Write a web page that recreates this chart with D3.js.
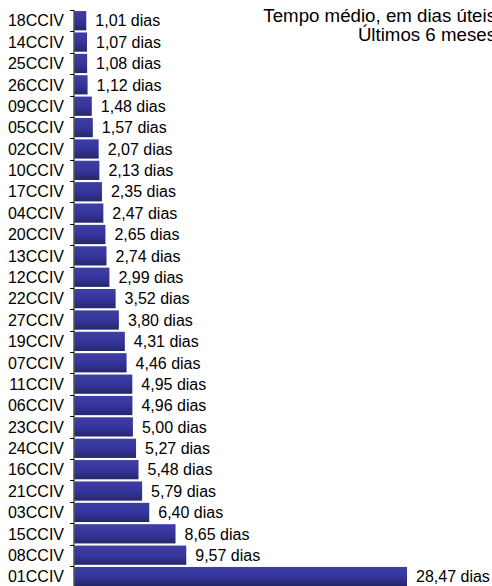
<!DOCTYPE html>
<html>
<head>
<meta charset="utf-8">
<script src="https://cdn.jsdelivr.net/npm/d3@7"></script>
<style>
  html, body { margin: 0; padding: 0; background: #fff; }
  svg { display: block; }
  text { font-family: "Liberation Sans", Arial, sans-serif; fill: #000; }
</style>
</head>
<body>
<script>
const categories = ["18CCIV","14CCIV","25CCIV","26CCIV","09CCIV","05CCIV","02CCIV","10CCIV","17CCIV","04CCIV","20CCIV","13CCIV","12CCIV","22CCIV","27CCIV","19CCIV","07CCIV","11CCIV","06CCIV","23CCIV","24CCIV","16CCIV","21CCIV","03CCIV","15CCIV","08CCIV","01CCIV"];
const values = [1.01,1.07,1.08,1.12,1.48,1.57,2.07,2.13,2.35,2.47,2.65,2.74,2.99,3.52,3.80,4.31,4.46,4.95,4.96,5.00,5.27,5.48,5.79,6.40,8.65,9.57,28.47];
const titleLines = ["Tempo médio, em dias úteis", "Últimos 6 meses"];
const unit = "dias";

const W = 492, H = 586;
const data = categories.map((c, i) => ({ c, v: values[i] }));

const svg = d3.select("body").append("svg").attr("width", W).attr("height", H);

const defs = svg.append("defs");
const grad = defs.append("linearGradient").attr("id", "barGrad")
  .attr("x1", 0).attr("y1", 0).attr("x2", 0).attr("y2", 1);
grad.append("stop").attr("offset", "0%").attr("stop-color", "#3e3ea6");
grad.append("stop").attr("offset", "55%").attr("stop-color", "#34349a");
grad.append("stop").attr("offset", "100%").attr("stop-color", "#26266a");

const x = d3.scaleLinear().domain([0, 28.47]).range([74.5, 407]);
const y = d3.scaleBand().domain(categories).range([10, 10 + 21.38 * categories.length]).paddingInner(0.1).paddingOuter(0.05);

// bars
svg.append("g").selectAll("rect").data(data).join("rect")
  .attr("x", x(0))
  .attr("y", d => y(d.c))
  .attr("width", d => x(d.v) - x(0))
  .attr("height", y.bandwidth())
  .attr("fill", "url(#barGrad)");

// axis line
const axisX = 74;
const step = y.step();
const y0 = y.range()[0];
svg.append("line")
  .attr("x1", axisX).attr("x2", axisX)
  .attr("y1", y0).attr("y2", H)
  .attr("stroke", "#000").attr("stroke-width", 1);

// ticks at band boundaries
const bounds = d3.range(categories.length + 1).map(i => y0 + i * step);
svg.append("g").selectAll("line").data(bounds).join("line")
  .attr("x1", axisX - 4).attr("x2", axisX)
  .attr("y1", d => Math.round(d) + 0.5).attr("y2", d => Math.round(d) + 0.5)
  .attr("stroke", "#000").attr("stroke-width", 1);

// category labels
svg.append("g").selectAll("text").data(data).join("text")
  .attr("x", 64)
  .attr("y", d => y(d.c) + y.bandwidth() / 2)
  .attr("dy", "0.36em")
  .attr("text-anchor", "end")
  .style("font-size", "16px")
  .text(d => d.c);

// value labels
const fmt = v => v.toFixed(2).replace(".", ",") + " " + unit;
svg.append("g").selectAll("text").data(data).join("text")
  .attr("x", d => x(d.v) + 9)
  .attr("y", d => y(d.c) + y.bandwidth() / 2)
  .attr("dy", "0.36em")
  .attr("text-anchor", "start")
  .style("font-size", "16px")
  .text(d => fmt(d.v));

// title
svg.append("g").selectAll("text").data(titleLines).join("text")
  .attr("x", 496)
  .attr("y", (d, i) => 22 + i * 18.5)
  .attr("text-anchor", "end")
  .style("font-size", "18.7px")
  .text(d => d);
</script>
</body>
</html>
